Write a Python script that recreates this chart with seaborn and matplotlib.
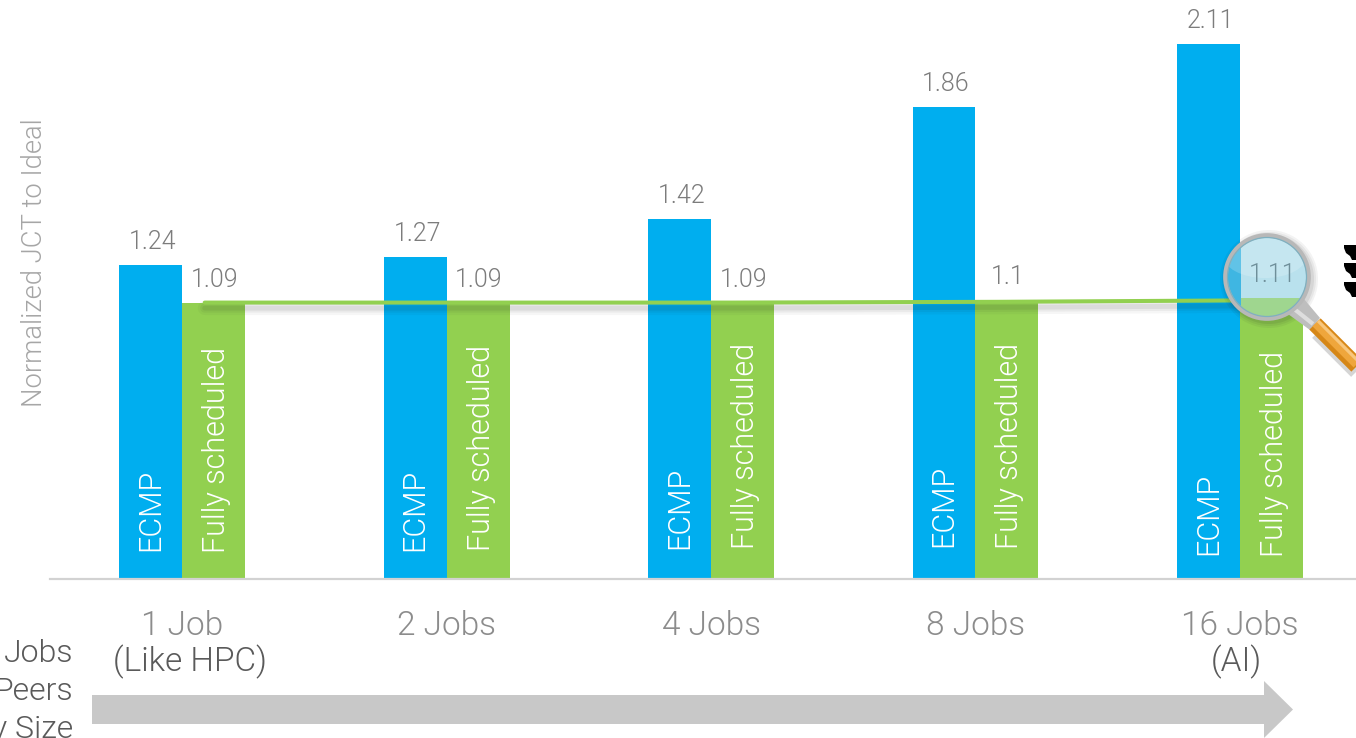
import numpy as np
import pandas as pd
import seaborn as sns
import matplotlib
matplotlib.use("Agg")
import matplotlib.pyplot as plt
import matplotlib.patheffects as pe
from matplotlib.patches import Circle, Ellipse, Polygon, Rectangle
from matplotlib.transforms import Affine2D

# ---- data ----
categories = ["1 Job", "2 Jobs", "4 Jobs", "8 Jobs", "16 Jobs"]
ecmp = [1.24, 1.27, 1.42, 1.86, 2.11]
scheduled = [1.09, 1.09, 1.09, 1.1, 1.11]
trend = [1.09, 1.09, 1.09, 1.093, 1.099]
series_names = ["ECMP", "Fully scheduled"]
second_lines = {0: "(Like HPC)", 4: "(AI)"}
side_text = ["Jobs", "Peers", "y Size"]
y_title = "Normalized JCT to Ideal"

# ---- styles ----
BLUE, GREEN = "#00AEEF", "#92D050"
FONT = "Roboto"
LIGHT = 300

sns.set_theme(style="white")
plt.rcParams["font.family"] = [FONT, "DejaVu Sans"]
plt.rcParams["font.weight"] = LIGHT

W, H = 1356, 738
fig = plt.figure(figsize=(W / 100, H / 100), dpi=100)
ax = fig.add_axes([50 / W, (H - 579) / H, (W - 50) / W, 579 / H])
pix = Affine2D().scale(1, -1).translate(0, H)  # decoration pixel coordinates

df = pd.DataFrame({
    "jobs": categories * 2,
    "series": [series_names[0]] * 5 + [series_names[1]] * 5,
    "value": ecmp + scheduled,
})
sns.barplot(data=df, x="jobs", y="value", hue="series", order=categories,
            hue_order=series_names, palette=[BLUE, GREEN], saturation=1,
            width=0.476, gap=0, legend=False, ax=ax, zorder=2, linewidth=0)
ax.set_xlim(-0.5, 4.439)
ax.set_ylim(0, 579 / 253.6)

# axis styling
sns.despine(ax=ax, left=True, top=True, right=True)
ax.spines["bottom"].set_color("#D2D2D2")
ax.spines["bottom"].set_linewidth(1.6)
ax.set_yticks([])
ax.set_xlabel("")
ax.set_ylabel(y_title, fontsize=19.7, color="#A6A6A6", fontweight=LIGHT)
ax.yaxis.set_label_coords((48 - 50) / (W - 50), (579 - 263) / 579)
ax.tick_params(axis="x", length=0, pad=22, labelsize=24, labelcolor="#8C8C8C")

# value labels
for cont, dx in zip(ax.containers, (2, 1)):
    for rect, v in zip(cont, cont.datavalues):
        is_last = rect is cont[4] and cont is ax.containers[1]
        ax.annotate(f"{v:g}", (rect.get_x() + rect.get_width() / 2, v),
                    xytext=(dx, 11), textcoords="offset pixels", ha="center",
                    va="bottom", fontsize=18, zorder=9,
                    color="#6F8F9A" if is_last else "#7C7C7C")

# labels inside the bars
lift = [[28, 28, 30, 32, 24], [26, 28, 30, 30, 22]]
for cont, name, up, dx in zip(ax.containers, series_names, lift, (0, 3)):
    for rect, u in zip(cont, up):
        ax.annotate(name, (rect.get_x() + rect.get_width() / 2, 0),
                    xytext=(dx, u), textcoords="offset pixels", rotation=90,
                    ha="center", va="bottom", fontsize=22, color="white", zorder=3)

# second line of tick labels
for i, txt in second_lines.items():
    ax.annotate(txt, (i, 0), xytext=(8 if i == 0 else -4, -83), textcoords="offset pixels",
                ha="center", va="center", fontsize=24, color="#5A5A5A", annotation_clip=False)

# green reference line over the scheduled bars, with soft shadow
line_x = np.arange(len(categories)) + 0.085
sns.lineplot(x=line_x, y=trend, color=GREEN, linewidth=2.9, ax=ax, zorder=4,
             path_effects=[
                 pe.SimpleLineShadow(offset=(0, -4), shadow_color="k", alpha=0.035, linewidth=10),
                 pe.SimpleLineShadow(offset=(0, -4), shadow_color="k", alpha=0.05, linewidth=6.5),
                 pe.SimpleLineShadow(offset=(0, -4), shadow_color="k", alpha=0.07, linewidth=3.5),
                 pe.Normal()])
ax.lines[-1].set_clip_path(Rectangle((0, 200), 1240, 200, transform=pix))

# side text, cut at the left edge
for txt, y in zip(side_text, (653, 692, 729)):
    fig.text(73 / W, (H - y) / H, txt, ha="right", va="center", fontsize=23, color="#5A5A5A")

# grey progress arrow
fig.add_artist(Polygon([(92, 695), (1264, 695), (1264, 681), (1293, 709.5), (1264, 738),
                        (1264, 724), (92, 724)], closed=True, fc="#C8C8C8", ec="none",
                       transform=pix, clip_on=False, zorder=1))

# clipped black glyph fragments at right edge
for y0 in (245, 263, 282):
    fig.add_artist(Polygon([(1344, y0), (1356, y0), (1356, y0 + 15), (1352, y0 + 15),
                            (1350, y0 + 11), (1346, y0 + 8), (1344, y0 + 3)],
                           closed=True, fc="black", ec="none", transform=pix))

# magnifying glass
cx, cy, R = 1267, 277, 41
Z = 5
def deco(patch, z):
    patch.set_transform(pix)
    patch.set_clip_on(False)
    patch.set_zorder(Z + z)
    ax.add_patch(patch)
    return patch

# soft shadow around glass and handle
for extra, a in ((9, 0.05), (7, 0.06), (5, 0.08)):
    deco(Circle((cx + 2, cy + 2), R + extra - 1, fc="k", ec="none", alpha=a), 0.0)
ax.plot([1318, 1362], [332, 376], transform=pix, color="k", alpha=0.18, lw=12,
        solid_capstyle="butt", clip_on=False, zorder=Z + 0.01)
# neck of the handle
deco(Polygon([(1288, 314), (1304, 299), (1320, 318), (1310, 330)], fc="#BEBEBE", ec="none"), 0.02)
ax.plot([1293, 1313], [308, 324], transform=pix, color="#DEDEDE", lw=3,
        solid_capstyle="butt", clip_on=False, zorder=Z + 0.03)
# orange grip
ax.plot([1315, 1362], [324, 371], transform=pix, color="#D68717", lw=11.5,
        solid_capstyle="butt", clip_on=False, zorder=Z + 0.1)
ax.plot([1316, 1363], [323, 370], transform=pix, color="#EFA63C", lw=7,
        solid_capstyle="butt", clip_on=False, zorder=Z + 0.12)
ax.plot([1318, 1364], [321, 367], transform=pix, color="#F7C77F", lw=2.2,
        solid_capstyle="butt", clip_on=False, zorder=Z + 0.14)
# glass: what the lens shows, clipped to the circle
glass = deco(Circle((cx, cy), R, fc="#B9E1ED", ec="none"), 0.2)
for shape, z in ((Rectangle((1200, 200), 40.7, 160, fc="#3FB6E2", ec="none"), 0.22),
                 (Rectangle((1240.7, 297.7), 90, 60, fc="#9FD68F", ec="none"), 0.24),
                 (Ellipse((cx - 2, cy - 22), 84, 46, fc="white", ec="none", alpha=0.18), 0.26)):
    deco(shape, z)
    shape.set_clip_on(True)
    shape.set_clip_path(glass)
deco(Circle((cx, cy), R + 0.5, fc="none", ec="#B8B8B8", lw=3.4), 0.3)
deco(Circle((cx, cy), R - 1.5, fc="none", ec="#7FB0C0", lw=0.9), 0.32)

fig.savefig("out.png", dpi=100)
